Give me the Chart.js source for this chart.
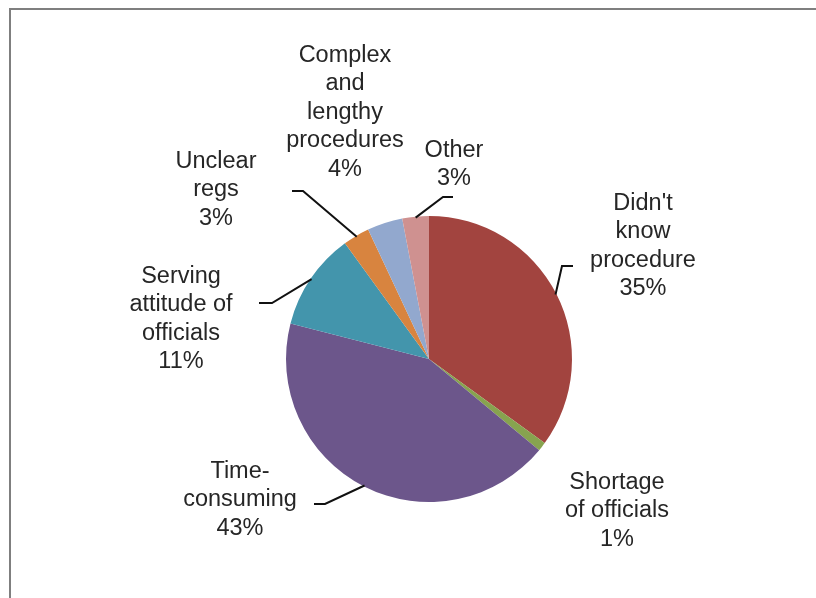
<!DOCTYPE html>
<html>
<head>
<meta charset="utf-8">
<title>Reasons pie</title>
<script src="https://cdn.jsdelivr.net/npm/chart.js@4"></script>
<style>
  html, body { margin: 0; padding: 0; background: #fff; }
  #wrap { position: relative; width: 816px; height: 598px; overflow: hidden; }
  #frame { position: absolute; left: 9px; top: 8px; width: 900px; height: 700px;
           border-left: 2px solid #7f7f7f; border-top: 2px solid #7f7f7f; }
  #chart { position: absolute; left: 0; top: 0; }
</style>
</head>
<body>
<div id="wrap">
  <div id="frame"></div>
  <canvas id="chart" width="816" height="598"></canvas>
</div>
<script>
// slices, clockwise from 12 o'clock
const categories = [
  ["Didn't", "know", "procedure"],
  ["Shortage", "of officials"],
  ["Time-", "consuming"],
  ["Serving", "attitude of", "officials"],
  ["Unclear", "regs"],
  ["Complex", "and", "lengthy", "procedures"],
  ["Other"],
];
const shares = [35, 1, 43, 11, 3, 4, 3];
const colors = ['#A2443F', '#87A34F', '#6C568B', '#4395AC', '#D8843F', '#92A8CE', '#CF9190'];

// where Excel put each label: centre x, first baseline, leader elbow + end (or null)
const labelLayout = [
  { x: 643, y: 210, elbow: [562, 266], end: 573 },
  { x: 617, y: 489, elbow: null },
  { x: 240, y: 478, elbow: [325, 504], end: 314 },
  { x: 181, y: 283, elbow: [272, 303], end: 259 },
  { x: 216, y: 168, elbow: [303, 191], end: 292 },
  { x: 345, y: 62,  elbow: null },
  { x: 454, y: 157, elbow: [443, 197], end: 453 },
];
const LINE_H = 28.4;

const total = shares.reduce((a, b) => a + b, 0);

const pieLabels = {
  id: 'pieLabels',
  afterDatasetsDraw(chart) {
    const ctx = chart.ctx;
    const arcs = chart.getDatasetMeta(0).data;
    ctx.save();
    arcs.forEach((arc, i) => {
      const p = arc.getProps(['x', 'y', 'startAngle', 'endAngle', 'outerRadius'], true);
      const lay = labelLayout[i];

      if (lay.elbow) {
        const mid = (p.startAngle + p.endAngle) / 2;
        const ax = p.x + Math.cos(mid) * (p.outerRadius - 1);
        const ay = p.y + Math.sin(mid) * (p.outerRadius - 1);
        ctx.beginPath();
        ctx.moveTo(ax, ay);
        ctx.lineTo(lay.elbow[0], lay.elbow[1]);
        ctx.lineTo(lay.end, lay.elbow[1]);
        ctx.strokeStyle = '#111';
        ctx.lineWidth = 2;
        ctx.stroke();
      }

      const lines = categories[i].concat([Math.round(shares[i] / total * 100) + '%']);
      ctx.font = '23.5px "Liberation Sans", Arial, sans-serif';
      ctx.fillStyle = '#262626';
      ctx.textAlign = 'center';
      ctx.textBaseline = 'alphabetic';
      lines.forEach((t, k) => ctx.fillText(t, lay.x, lay.y + k * LINE_H));
    });
    ctx.restore();
  }
};

new Chart(document.getElementById('chart'), {
  type: 'pie',
  data: {
    labels: categories.map(c => c.join(' ')),
    datasets: [{
      data: shares,
      backgroundColor: colors,
      borderWidth: 0,
      hoverOffset: 0,
      offset: 0,
    }],
  },
  options: {
    responsive: false,
    animation: false,
    events: [],
    layout: { padding: { left: 286, right: 244, top: 216, bottom: 96 } },
    plugins: {
      legend: { display: false },
      tooltip: { enabled: false },
    },
  },
  plugins: [pieLabels],
});
</script>
</body>
</html>
